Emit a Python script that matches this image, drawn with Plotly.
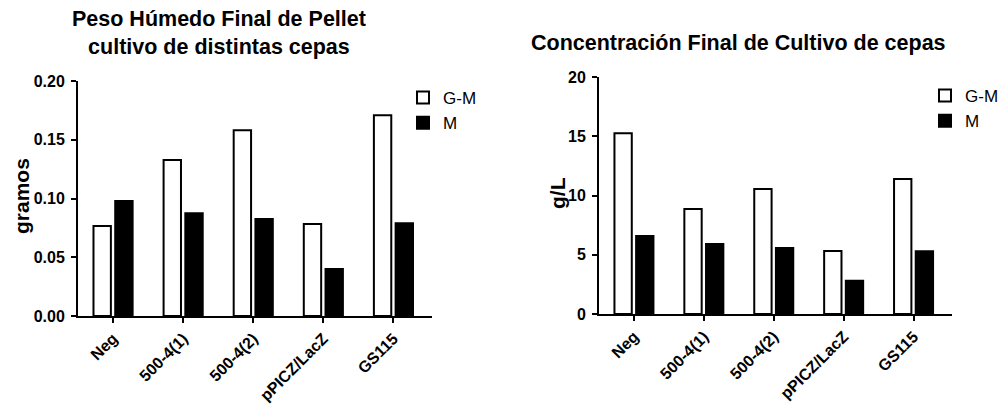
import plotly.graph_objects as go

categories = ["Neg", "500-4(1)", "500-4(2)", "pPICZ/LacZ", "GS115"]
series_names = ["G-M", "M"]
peso_gm = [0.0766, 0.1328, 0.158, 0.0783, 0.1708]
peso_m = [0.0979, 0.0874, 0.0826, 0.040, 0.0789]
conc_gm = [15.25, 8.86, 10.55, 5.32, 11.39]
conc_m = [6.58, 5.9, 5.57, 2.81, 5.3]
left_title = "Peso Húmedo Final de Pellet<br>cultivo de distintas cepas"
right_title = "Concentración Final de Cultivo de cepas"
left_ytitle = "gramos"
right_ytitle = "g/L"
left_yticks = [0, 0.05, 0.10, 0.15, 0.20]
right_yticks = [0, 5, 10, 15, 20]

W, H = 1001, 406
FONT = "Liberation Sans, Arial, sans-serif"

def px_x(p):
    return p / W

def px_y(p):
    return (H - p) / H

fig = go.Figure()

fills = ["white", "black"]
for name, vals, fill in zip(series_names, [peso_gm, peso_m], fills):
    fig.add_trace(go.Bar(x=categories, y=vals, name=name, xaxis="x", yaxis="y",
                         marker=dict(color=fill, line=dict(color="black", width=2)),
                         legend="legend"))
for name, vals, fill in zip(series_names, [conc_gm, conc_m], fills):
    fig.add_trace(go.Bar(x=categories, y=vals, name=name, xaxis="x2", yaxis="y2",
                         marker=dict(color=fill, line=dict(color="black", width=2)),
                         legend="legend2"))

tickfont = dict(family=FONT, size=16, color="black", weight="bold")
xcommon = dict(showline=True, linecolor="black", linewidth=2, ticks="outside",
               ticklen=5, tickwidth=2, tickcolor="black", tickangle=-45,
               tickfont=tickfont, showgrid=False, zeroline=False, automargin=False,
               range=[-0.5, 4.55], type="category")
ycommon = dict(showline=True, linecolor="black", linewidth=2, ticks="outside",
               ticklen=5, tickwidth=2, tickcolor="black", tickfont=tickfont,
               showgrid=False, zeroline=False, ticklabelstandoff=3, automargin=False)

fig.update_layout(
    width=W, height=H,
    margin=dict(l=0, r=0, t=0, b=0, autoexpand=False),
    paper_bgcolor="white", plot_bgcolor="white",
    barmode="group", bargap=0.38, bargroupgap=0.2,
    font=dict(family=FONT, color="black"),
    xaxis=dict(domain=[px_x(78), px_x(432)], anchor="y", **xcommon),
    yaxis=dict(domain=[px_y(316), px_y(81)], anchor="x", range=[0, 0.2],
               tickvals=left_yticks, tickformat=".2f", **ycommon),
    xaxis2=dict(domain=[px_x(599), px_x(952)], anchor="y2", **xcommon),
    yaxis2=dict(domain=[px_y(314), px_y(77)], anchor="x2", range=[0, 20],
                tickvals=right_yticks, **ycommon),
    legend=dict(x=px_x(403), y=px_y(80), xanchor="left", yanchor="top",
                font=dict(family=FONT, size=17, color="black"),
                bgcolor="rgba(0,0,0,0)", tracegroupgap=0),
    legend2=dict(x=px_x(925), y=px_y(78), xanchor="left", yanchor="top",
                 font=dict(family=FONT, size=17, color="black"),
                 bgcolor="rgba(0,0,0,0)", tracegroupgap=0),
    annotations=[
        dict(text=left_title, x=px_x(219), y=px_y(33), xref="paper", yref="paper",
             xanchor="center", yanchor="middle", showarrow=False,
             font=dict(family=FONT, size=21.5, color="black", weight="bold")),
        dict(text=right_title, x=px_x(738), y=px_y(43), xref="paper", yref="paper",
             xanchor="center", yanchor="middle", showarrow=False,
             font=dict(family=FONT, size=21.5, color="black", weight="bold")),
        dict(text=left_ytitle, x=px_x(21), y=px_y(196), xref="paper", yref="paper",
             xanchor="center", yanchor="middle", showarrow=False, textangle=-90,
             font=dict(family=FONT, size=21, color="black", weight="bold")),
        dict(text=right_ytitle, x=px_x(557), y=px_y(193), xref="paper", yref="paper",
             xanchor="center", yanchor="middle", showarrow=False, textangle=-90,
             font=dict(family=FONT, size=21, color="black", weight="bold")),
    ],
)

fig.write_html("out.html")
